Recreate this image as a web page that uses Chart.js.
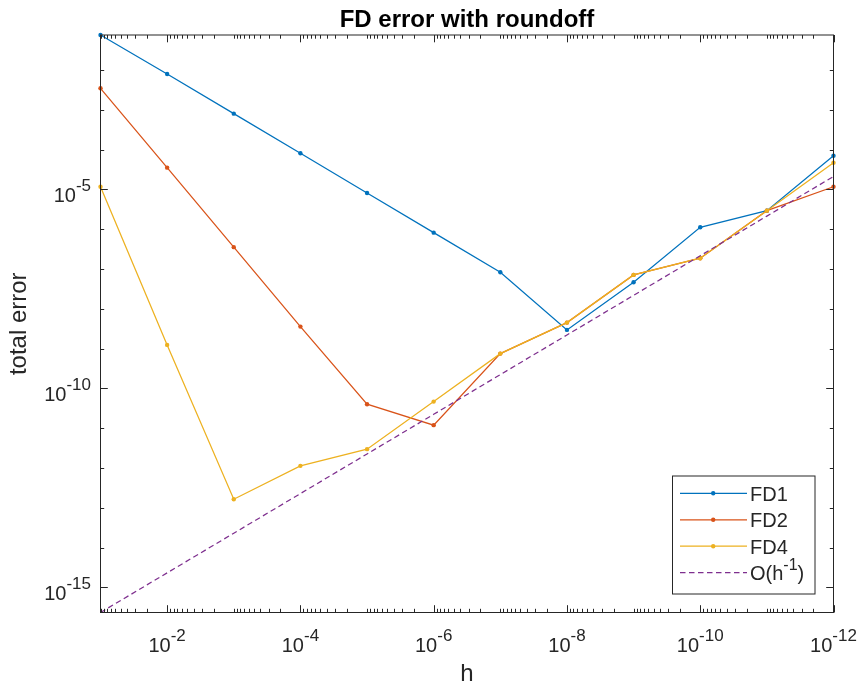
<!DOCTYPE html>
<html>
<head>
<meta charset="utf-8">
<title>FD error with roundoff</title>
<script src="https://cdn.jsdelivr.net/npm/chart.js@4.4.1/dist/chart.umd.min.js"></script>
<style>
  html, body { margin: 0; padding: 0; background: #fff; }
  canvas { display: block; }
</style>
</head>
<body>
<canvas id="errChart" width="859" height="686"></canvas>
<script>
// step sizes h
const hValues = [1e-1, 1e-2, 1e-3, 1e-4, 1e-5, 1e-6, 1e-7, 1e-8, 1e-9, 1e-10, 1e-11, 1e-12];

// total error of each formula at every h
const errFD1 = [7.62e-2, 7.98e-3, 8.04e-4, 8.13e-5, 8.17e-6, 8.22e-7, 8.30e-8, 2.95e-9, 4.66e-8, 1.12e-6, 2.93e-6, 7.06e-5];
const errFD2 = [3.49e-3, 3.53e-5, 3.55e-7, 3.57e-9, 4.01e-11, 1.19e-11, 7.48e-10, 4.50e-9, 7.11e-8, 1.87e-7, 2.93e-6, 1.17e-5];
const errFD4 = [1.17e-5, 1.24e-9, 1.64e-13, 1.13e-12, 2.97e-12, 4.66e-11, 7.48e-10, 4.50e-9, 7.11e-8, 1.87e-7, 2.93e-6, 4.71e-5];
// roundoff reference line
const errRef = [2.33e-16, 2.31e-15, 2.29e-14, 2.27e-13, 2.25e-12, 2.23e-11, 2.22e-10, 2.20e-9, 2.18e-8, 2.16e-7, 2.14e-6, 2.12e-5];

// powers of ten that get a label
const xTickExp = [-2, -4, -6, -8, -10, -12];
const yTickExp = [-15, -10, -5];

const FONT = '"Liberation Sans", Arial, Helvetica, sans-serif';
const INK = '#262626';

function toPoints(vals) {
    return vals.map((v, i) => ({ x: hValues[i], y: v }));
}

function makeSeries(label, vals, color, order) {
    return {
        label: label,
        data: toPoints(vals),
        borderColor: color,
        backgroundColor: color,
        borderWidth: 1.25,
        pointRadius: 2.2,
        pointBorderWidth: 0,
        pointBackgroundColor: color,
        order: order,
        clip: false
    };
}

// "10" with a raised exponent
function drawPow(ctx, exp, x, baseY, supY, align) {
    const sup = String(exp);
    ctx.font = '20px ' + FONT;
    const wb = ctx.measureText('10').width;
    ctx.font = '17px ' + FONT;
    const ws = ctx.measureText(sup).width;
    const x0 = align === 'center' ? x - (wb + ws) / 2 : x - wb - ws;
    ctx.font = '20px ' + FONT;
    ctx.fillText('10', x0, baseY);
    ctx.font = '17px ' + FONT;
    ctx.fillText(sup, x0 + wb, supY);
}

// text where "^n" is written as a superscript
function drawRich(ctx, text, x, baseY) {
    const parts = text.split(/\^(-?\d+)/);
    let cx = x;
    parts.forEach((p, i) => {
        if (!p) return;
        const isSup = i % 2 === 1;
        ctx.font = (isSup ? '16px ' : '20px ') + FONT;
        ctx.fillText(p, cx, isSup ? baseY - 10 : baseY);
        cx += ctx.measureText(p).width;
    });
}

// box, inward ticks, tick labels and legend
const axesBox = {
    id: 'axesBox',
    afterDraw(chart) {
        const { ctx, chartArea: a, scales: { x, y } } = chart;
        ctx.save();
        ctx.strokeStyle = INK;
        ctx.lineWidth = 1;
        ctx.strokeRect(a.left, a.top, a.right - a.left, a.bottom - a.top);

        ctx.beginPath();
        for (let e = -12; e <= -1; e++) {
            for (let m = 1; m <= 9; m++) {
                const v = m * Math.pow(10, e);
                if (v > x.max * 1.0001) continue;
                const px = Math.round(x.getPixelForValue(v)) + 0.5;
                const len = (m === 1 && xTickExp.includes(e)) ? 7.3 : 3.7;
                ctx.moveTo(px, a.bottom); ctx.lineTo(px, a.bottom - len);
                ctx.moveTo(px, a.top); ctx.lineTo(px, a.top + len);
            }
        }
        for (let e = -15; e <= -2; e++) {
            const py = Math.round(y.getPixelForValue(Math.pow(10, e))) + 0.5;
            const len = yTickExp.includes(e) ? 7.3 : 3.7;
            ctx.moveTo(a.left, py); ctx.lineTo(a.left + len, py);
            ctx.moveTo(a.right, py); ctx.lineTo(a.right - len, py);
        }
        ctx.stroke();

        ctx.fillStyle = INK;
        ctx.textBaseline = 'alphabetic';
        ctx.textAlign = 'left';
        xTickExp.forEach(e => {
            const px = x.getPixelForValue(Math.pow(10, e));
            drawPow(ctx, e, px, a.bottom + 39, a.bottom + 28, 'center');
        });
        yTickExp.forEach(e => {
            const py = y.getPixelForValue(Math.pow(10, e));
            drawPow(ctx, e, a.left - 9.5, py + 12.5, py + 2, 'right');
        });

        // legend
        const boxW = 142.5, boxH = 118;
        const bx = a.right - 18.5 - boxW, by = a.bottom - 18.5 - boxH;
        ctx.fillStyle = '#fff';
        ctx.fillRect(bx, by, boxW, boxH);
        ctx.strokeStyle = INK;
        ctx.strokeRect(bx, by, boxW, boxH);
        chart.data.datasets.forEach((ds, i) => {
            const ry = by + 17.3 + i * 26.45;
            ctx.save();
            ctx.strokeStyle = ds.borderColor;
            ctx.lineWidth = ds.borderWidth;
            ctx.setLineDash(ds.borderDash || []);
            ctx.beginPath();
            ctx.moveTo(bx + 7.5, ry);
            ctx.lineTo(bx + 74.5, ry);
            ctx.stroke();
            if (ds.pointRadius > 0) {
                ctx.fillStyle = ds.borderColor;
                ctx.beginPath();
                ctx.arc(bx + 40.7, ry, ds.pointRadius, 0, Math.PI * 2);
                ctx.fill();
            }
            ctx.restore();
            ctx.fillStyle = INK;
            drawRich(ctx, ds.label, bx + 77.5, ry + 7.3);
        });
        ctx.restore();
    }
};

Chart.defaults.font.family = FONT;
Chart.defaults.color = INK;

new Chart(document.getElementById('errChart'), {
    type: 'line',
    data: {
        datasets: [
            makeSeries('FD1', errFD1, '#0072BD', 3),
            makeSeries('FD2', errFD2, '#D95319', 2),
            makeSeries('FD4', errFD4, '#EDB120', 1),
            {
                label: 'O(h^-1)',
                data: toPoints(errRef),
                borderColor: '#7E2F8E',
                borderWidth: 1.25,
                borderDash: [5.5, 3.5],
                pointRadius: 0,
                order: 0,
                clip: false
            }
        ]
    },
    options: {
        responsive: false,
        animation: false,
        events: [],
        layout: { padding: { left: 0, right: 25.5, top: 0, bottom: 0 } },
        plugins: {
            legend: { display: false },
            tooltip: { enabled: false },
            title: {
                display: true,
                fullSize: false,
                text: 'FD error with roundoff',
                color: '#000',
                font: { family: FONT, size: 24, weight: 'bold', lineHeight: 1.2 },
                padding: { top: 5.6, bottom: 0.6 }
            }
        },
        scales: {
            x: {
                type: 'logarithmic',
                reverse: true,
                min: 1e-12,
                max: 1e-1,
                bounds: 'data',
                grid: { display: false, drawTicks: false },
                border: { display: false },
                ticks: { display: false },
                title: {
                    display: true,
                    text: 'h',
                    color: INK,
                    font: { family: FONT, size: 24, lineHeight: 1 },
                    padding: { top: 49.5, bottom: 0 }
                }
            },
            y: {
                type: 'logarithmic',
                min: errRef[0],
                max: errFD1[0],
                bounds: 'data',
                grid: { display: false, drawTicks: false },
                border: { display: false },
                ticks: { display: false },
                title: {
                    display: true,
                    text: 'total error',
                    color: INK,
                    font: { family: FONT, size: 24, lineHeight: 1 },
                    padding: { top: 7.6, bottom: 68.9 }
                }
            }
        }
    },
    plugins: [axesBox]
});
</script>
</body>
</html>
